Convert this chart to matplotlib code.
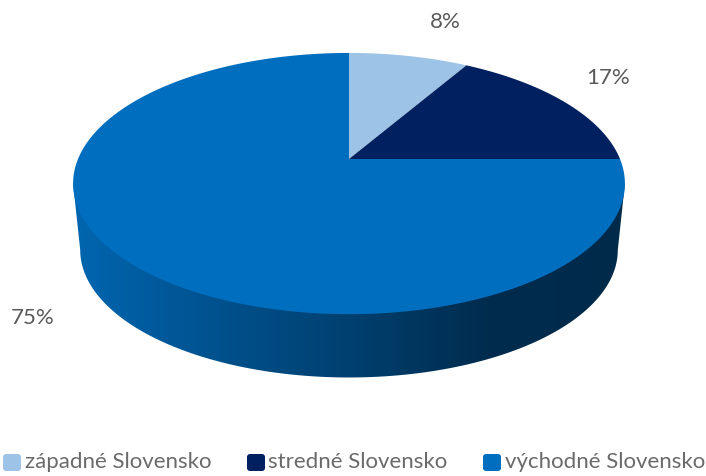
# -*- coding: utf-8 -*-

import numpy as np
import matplotlib
matplotlib.use("Agg")
import matplotlib.pyplot as plt
from matplotlib.colors import LinearSegmentedColormap
from matplotlib.patches import FancyBboxPatch, Polygon

regions = ["západné Slovensko", "stredné Slovensko", "východné Slovensko"]
shares = [8.4, 16.6, 75]
colors = ["#9DC3E6", "#002060", "#006EBF"]

label_pos = [(445, 22), (608, 78), (33, 318)]
legend_x = [3, 247, 483]
legend_text_x = [25, 268, 505]
legend_y = 462

# projected circles: cx, apex y, x radius, y radius, perspective
TOP = (349, 159, 271, 126, 0.188)
BOTTOM = (349, 226, 264, 123, 0.188)


def project(theta, disk):
    cx, cy, a, b, k = disk
    w = 1 + k * np.sin(theta)
    return cx + a * np.cos(theta) / w, cy - b * np.sin(theta) / w


plt.rcParams['font.family'] = ['Lato', 'DejaVu Sans']
fig = plt.figure(figsize=(7.06, 4.76), dpi=100)
ax = fig.add_axes([0, 0, 1, 1])
ax.set_xlim(0, 706)
ax.set_ylim(476, 0)
ax.axis("off")

# side of the disk, gradient clipped to the rim
k = TOP[4]
left = np.pi + np.arcsin(k)
right = 2 * np.pi - np.arcsin(k)
rim = np.linspace(left, right, 200)
xb, yb = project(rim, BOTTOM)
xt0, yt0 = project(left, TOP)
xt1, yt1 = project(right, TOP)
outline = np.column_stack([np.r_[xt0, xb, xt1], np.r_[yt0, yb, yt1]])
side = Polygon(outline, closed=True, transform=ax.transData, fc="none", ec="none")
ax.add_patch(side)

shade = LinearSegmentedColormap.from_list("side", [
    (0.0, "#0066B0"), (0.25, "#00528F"), (0.5, "#004070"),
    (0.75, "#002C4E"), (1.0, "#002A4A")])
img = ax.imshow(np.linspace(0, 1, 256)[None, :], cmap=shade, aspect="auto",
                extent=(73, 625, 400, 150), zorder=1)
img.set_clip_path(side)
ax.set_xlim(0, 706)
ax.set_ylim(476, 0)

# top face, slices clockwise from 12 o'clock
angle = np.pi / 2
for share, color in zip(shares, colors):
    stop = angle - 2 * np.pi * share / sum(shares)
    arc = np.linspace(angle, stop, 200)
    xs, ys = project(arc, TOP)
    ax.fill(np.r_[TOP[0], xs], np.r_[TOP[1], ys], color=color, lw=0, zorder=2)
    angle = stop

for share, (x, y) in zip(shares, label_pos):
    ax.text(x, y, "%.0f%%" % share, ha="center", va="center", fontsize=16, color="#595959")

for name, color, x, tx in zip(regions, colors, legend_x, legend_text_x):
    ax.add_patch(FancyBboxPatch((x + 3, 457), 12, 11, fc=color, ec=color, lw=0,
                                boxstyle="round,pad=3,rounding_size=3", zorder=3))
    ax.text(tx, legend_y, name, ha="left", va="center", fontsize=16, color="#6a6a6a")

fig.savefig("out.png", dpi=100)
